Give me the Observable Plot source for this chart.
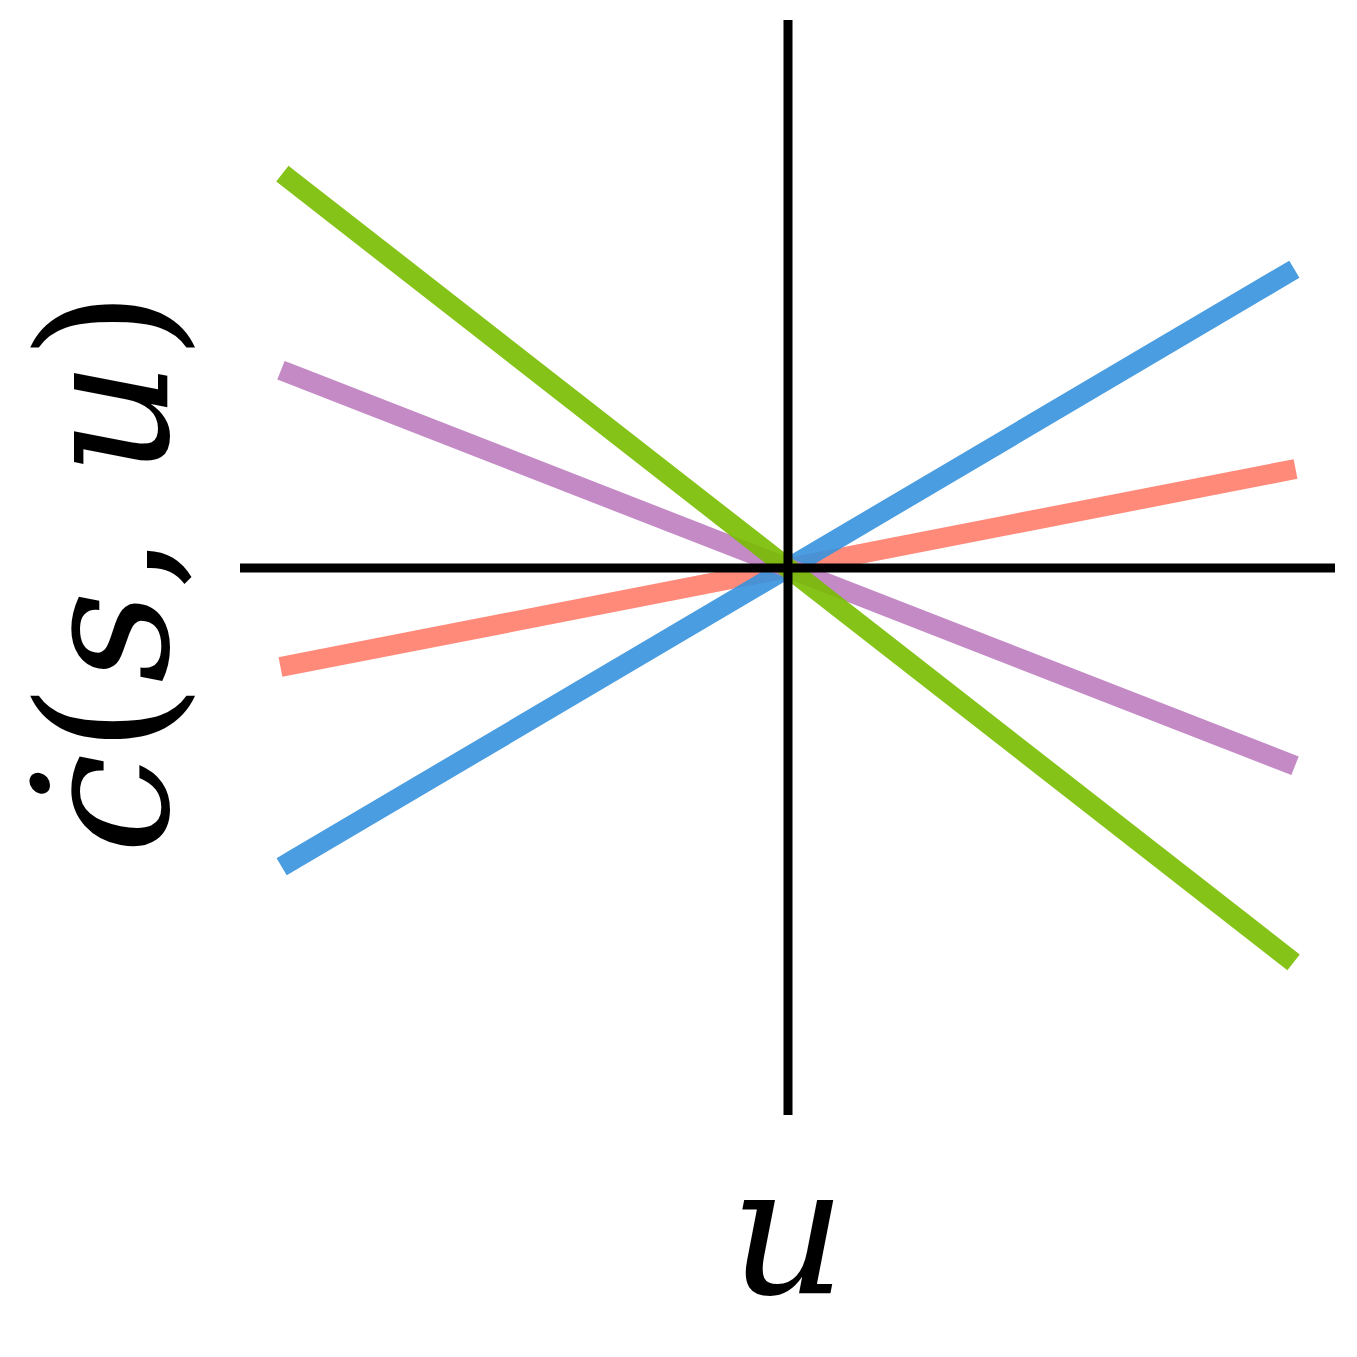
<!DOCTYPE html>
<html>
<head>
<meta charset="utf-8">
<script src="https://cdn.jsdelivr.net/npm/d3@7"></script>
<script src="https://cdn.jsdelivr.net/npm/@observablehq/plot@0.6"></script>
<style>
  html, body { margin: 0; padding: 0; background: #fff; }
</style>
</head>
<body>
<div id="chart"></div>
<script>
// Data
const xEnds = [-1, 1];
const seriesNames = ["S1", "S2", "S3", "S4"];
const seriesSlopes = [0.195, 0.59, -0.39, -0.78];
const seriesColors = ["#ff7d6b", "#3692dd", "#bc7dc0", "#78bd00"];
const xLabel = "u";

const rows = [];
seriesNames.forEach((name, i) => {
  xEnds.forEach(x => rows.push({series: name, x, y: seriesSlopes[i] * x}));
});

const W = 1357, H = 1357;
const chart = Plot.plot({
  width: W,
  height: H,
  marginLeft: 240,
  marginRight: 22,
  marginTop: 20,
  marginBottom: 242,
  x: {domain: [-1.1, 1.1], axis: null},
  y: {domain: [-1.1, 1.1], axis: null},
  color: {type: "ordinal", domain: seriesNames, range: seriesColors},
  marks: [
    Plot.line(rows, {x: "x", y: "y", z: "series", stroke: "series", strokeWidth: 20, strokeOpacity: 0.9, strokeLinecap: "square"}),
    Plot.ruleX([0], {stroke: "#000", strokeWidth: 9}),
    Plot.ruleY([0], {stroke: "#000", strokeWidth: 9})
  ]
});
document.getElementById("chart").appendChild(chart);

const svg = d3.select(chart);
svg.append("text")
  .attr("x", 788).attr("y", 1293)
  .attr("text-anchor", "middle")
  .attr("font-family", "DejaVu Serif")
  .attr("font-style", "italic")
  .attr("font-size", 180)
  .attr("fill", "#000")
  .text(xLabel);

const yl = svg.append("text")
  .attr("transform", "translate(167,572) rotate(-90)")
  .attr("text-anchor", "middle")
  .attr("font-family", "DejaVu Serif")
  .attr("font-size", 180)
  .attr("fill", "#000");
yl.append("tspan").attr("font-style", "italic").text("\u010B");
yl.append("tspan").text("(");
yl.append("tspan").attr("font-style", "italic").text("s");
yl.append("tspan").text(", ");
yl.append("tspan").attr("font-style", "italic").text("u");
yl.append("tspan").text(")");
</script>
</body>
</html>
